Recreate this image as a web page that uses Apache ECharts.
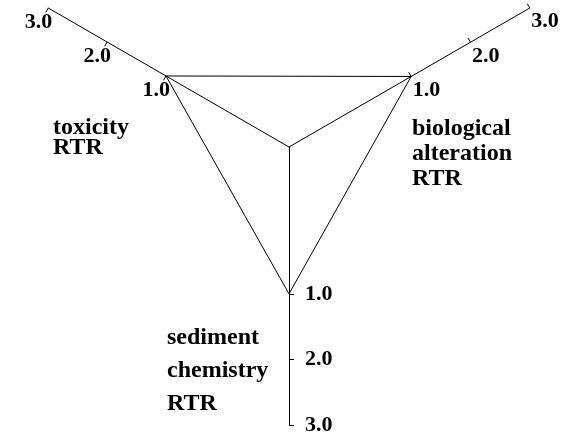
<!DOCTYPE html>
<html><head><meta charset="utf-8">
<script src="https://cdn.jsdelivr.net/npm/echarts@6/dist/echarts.min.js"></script>
<style>html,body{margin:0;padding:0;background:#fff}#c{width:572px;height:434px}</style>
</head><body><div id="c"></div>
<script>
// Data
const indicatorNames = ['toxicity', 'sediment chemistry', 'biological alteration'];
const toxicityLabel = ['toxicity', 'RTR'];
const sedimentLabel = ['sediment', 'chemistry', 'RTR'];
const biologicalLabel = ['biological', 'alteration', 'RTR'];
const tickValues = [1, 2, 3];
const rtrValues = [1.0, 1.0, 1.0];
// axis ranges (the hand-drawn axes are not equally scaled)
const axisMins = [-1.09, -1.24, -1.06];
const axisMax = 3;

const serif = 'Liberation Serif';
const chart = echarts.init(document.getElementById('c'), null, {renderer: 'canvas'});

function txt(lines, left, top, lh) {
  return {
    type: 'text', left: left, top: top,
    style: {text: lines.join('\n'), fontFamily: serif, fontWeight: 'bold', fontSize: 24, lineHeight: lh, fill: '#000'}
  };
}

const labelOverrides = [
  {align: 'right', verticalAlign: 'top', margin: -8, lineHeight: 42},
  {margin: 16},
  {align: 'left', verticalAlign: 'top', margin: -3}
];

chart.setOption({
  animation: false,
  backgroundColor: '#fff',
  radar: {
    center: [289, 147], radius: 278, startAngle: 150, shape: 'polygon',
    indicator: indicatorNames.map((n, i) => ({name: n, min: axisMins[i], max: axisMax, axisLabel: labelOverrides[i]})),
    axisName: {show: false},
    axisLine: {lineStyle: {color: '#000', width: 1}},
    axisTick: {show: true, length: 5, lineStyle: {color: '#000', width: 1}, customValues: tickValues},
    axisLabel: {
      show: true, customValues: tickValues,
      formatter: v => Number(v).toFixed(1),
      fontFamily: serif, fontWeight: 'bold', fontSize: 22, color: '#000', margin: 6
    },
    splitLine: {show: false}, splitArea: {show: false}
  },
  series: [{
    type: 'radar', symbol: 'none',
    lineStyle: {color: '#000', width: 1},
    data: [{value: rtrValues}]
  }],
  graphic: [
    txt(toxicityLabel, 53, 116, 20),
    txt(biologicalLabel, 412, 116, 25),
    txt(sedimentLabel, 167, 321, 33)
  ]
});
</script>
</body></html>
